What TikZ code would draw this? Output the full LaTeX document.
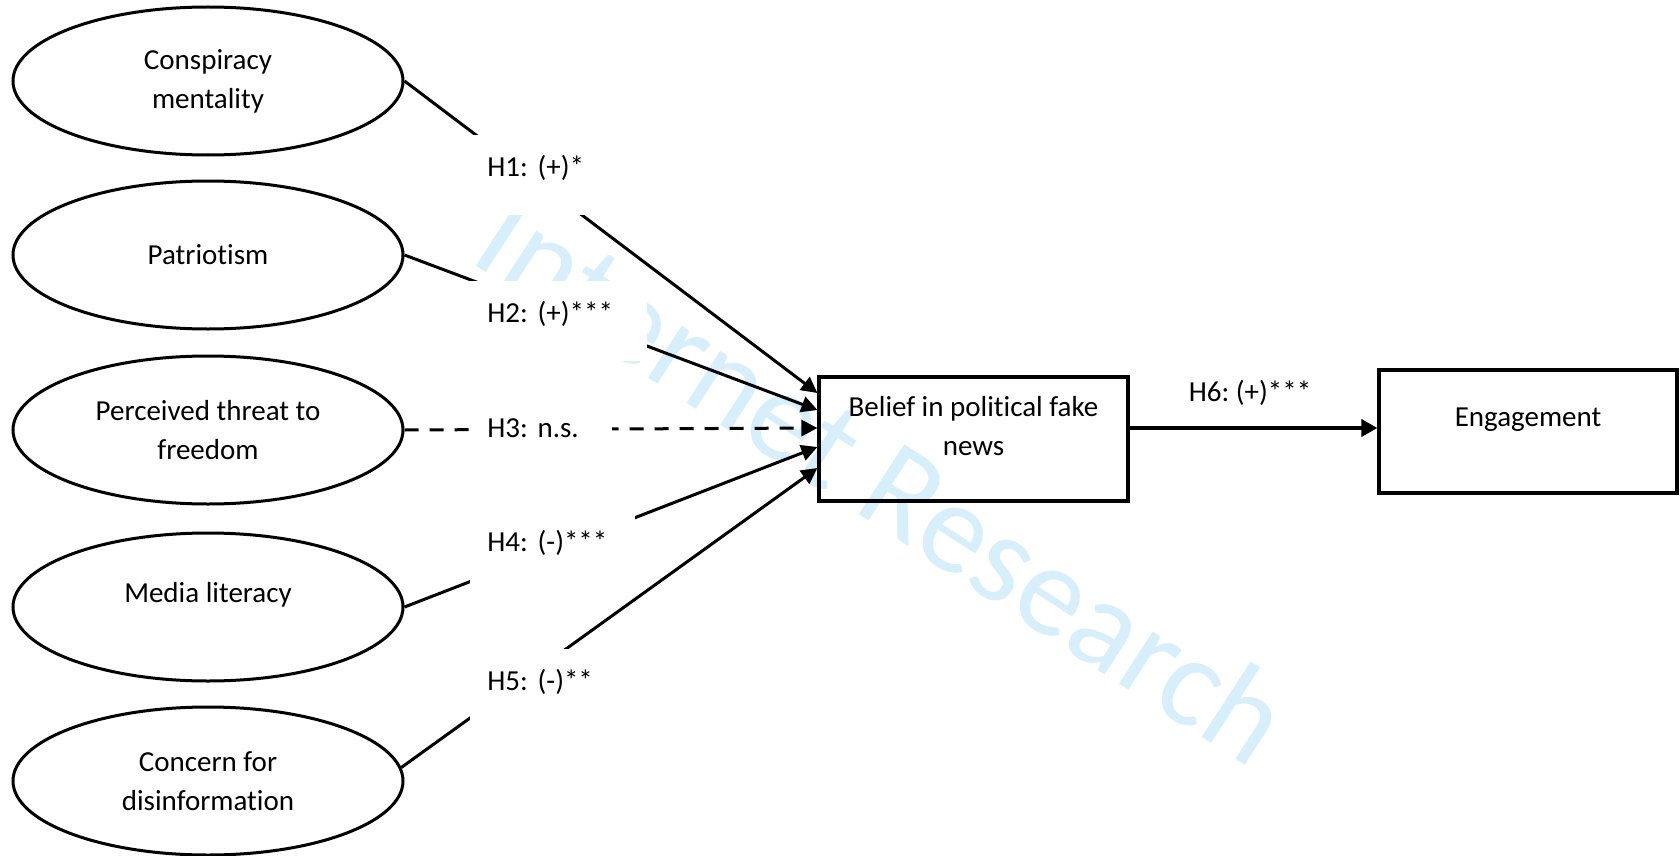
\documentclass[tikz,border=0pt]{standalone}
\usepackage{fontspec}
\setmainfont{Carlito}[Ligatures=NoCommon]
\usetikzlibrary{arrows.meta,shapes.geometric}
\definecolor{wmblue}{RGB}{214,239,251}
\frenchspacing
\begin{document}
\begin{tikzpicture}[x=0.5pt,y=-0.5pt,
  every node/.style={font=\fontsize{14.5pt}{19.5pt}\selectfont},
  latent/.style={draw, ellipse, line width=1.5pt, minimum width=195pt, minimum height=74pt, inner sep=0pt, align=center},
  obsbox/.style={draw, rectangle, line width=1.6pt, inner sep=0pt},
  hlab/.style={fill=white, inner ysep=0pt, inner xsep=8.5pt, text height=20.5pt, text depth=19.5pt, align=left, anchor=north west},
  conn/.style={line width=1.5pt, -{Triangle[length=8pt,width=8pt]}},
  nsline/.style={dash pattern=on 7pt off 5.5pt},
  wmark/.style={text=wmblue, font=\fontsize{65pt}{70pt}\selectfont, inner sep=0pt}
]
\useasboundingbox (0,0) rectangle (1680,856);
% watermark
\node[wmark, rotate=-33] (wm) at (884,478) {Internet Research};
% latent variables
\node[latent] (e1) at (208,81) {Conspiracy\\mentality};
\node[latent] (e2) at (208,255) {Patriotism};
\node[latent] (e3) at (208,430) {Perceived threat to\\freedom};
\node[latent] (e4) at (208,607) {\raisebox{0pt}[\height][\dimexpr\depth+12pt\relax]{Media literacy}};
\node[latent] (e5) at (208,781) {Concern for\\disinformation};
% observed boxes
\node[obsbox, minimum width=154.5pt, minimum height=62pt] (b1) at (973.5,439)
  {\raisebox{0pt}[\height][\dimexpr\depth+10.5pt\relax]{\begin{tabular}{@{}c@{}}Belief in political fake\\news\end{tabular}}};
\node[obsbox, minimum width=149pt, minimum height=61.5pt] (b2) at (1528,431.5)
  {\raisebox{0pt}[\height][\dimexpr\depth+11.5pt\relax]{Engagement}};
% connectors
\draw[conn] (e1.east) -- ([yshift=23pt]b1.west);
\draw[conn] (e2.east) -- ([yshift=14.5pt]b1.west);
\draw[conn, nsline] (e3.east) -- ([yshift=5.5pt]b1.west);
\draw[conn] (e4.east) -- ([yshift=-4pt]b1.west);
\draw[conn] (e5.4) -- ([yshift=-14.5pt]b1.west);
\draw[line width=2pt, -{Triangle[length=8pt,width=8.5pt]}] ([yshift=5.5pt]b1.east) -- ([yshift=1.75pt]b2.west);
% path labels
\node[hlab, text width=53pt] (l1) at (470,135) {H1: (+)*};
\node[hlab, text width=71.5pt] (l2) at (470,281) {H2: (+)***};
\node[hlab, text width=54pt] (l3) at (470,396) {H3: n.s.};
\node[hlab, text width=65.5pt] (l4) at (470,510) {H4: (-)***};
\node[hlab, text width=58pt] (l5) at (470,649) {H5: (-)**};
\node (l6) at (1250,393) {H6: (+)***};
\end{tikzpicture}
\end{document}
